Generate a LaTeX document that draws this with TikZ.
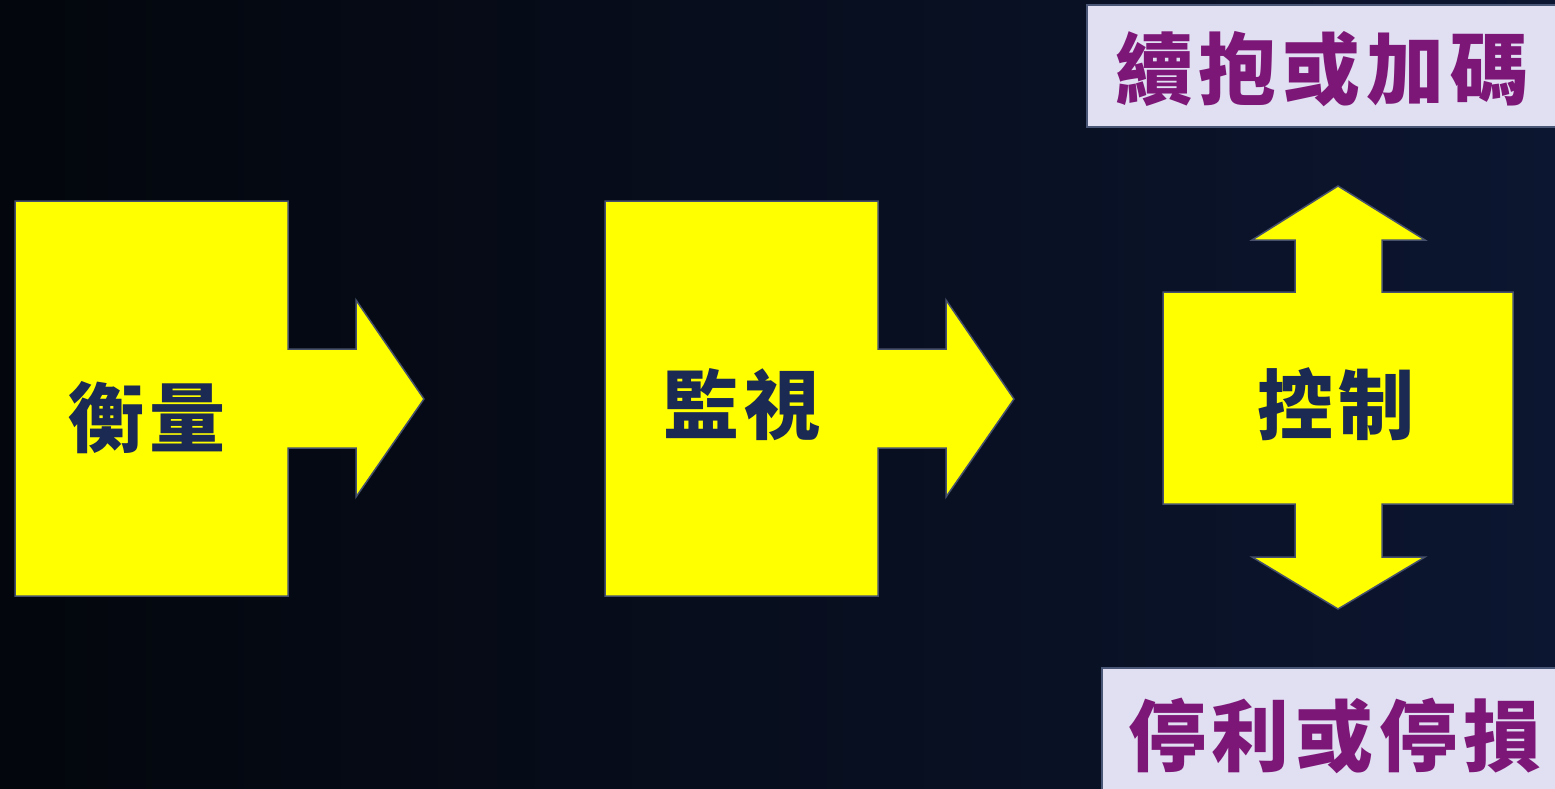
\documentclass[tikz,border=0pt]{standalone}
\usepackage{fontspec}
\newfontfamily\cjk{Noto Sans CJK TC}
\definecolor{bgA}{HTML}{03060C}
\definecolor{bgB}{HTML}{0C1630}
\definecolor{yel}{HTML}{FFFF00}
\definecolor{edge}{HTML}{46506A}
\definecolor{navy}{HTML}{1B2A52}
\definecolor{purp}{HTML}{7D1777}
\definecolor{boxfill}{HTML}{E0E0F2}
\definecolor{boxedge}{HTML}{4A5676}
\tikzset{
  shapefill/.style={fill=yel, draw=edge, line width=1.5pt, line join=miter},
  shapelabel/.style={font=\cjk\bfseries\fontsize{76}{80}\selectfont, text=navy, inner sep=0pt},
  actbox/.style={fill=boxfill, draw=boxedge, line width=2.5pt},
  acttext/.style={font=\cjk\bfseries\fontsize{78}{84}\selectfont, text=purp, inner sep=0pt},
}
\begin{document}
\begin{tikzpicture}[x=1pt,y=-1pt]
\useasboundingbox (0,0) rectangle (1555,789);
\shade[shading angle=135, left color=bgA, right color=bgB] (0,0) rectangle (1555,789);
\begin{scope}
\clip (0,0) rectangle (1555,789);
% shape 1
\draw[shapefill] (15,201) -- (288,201) -- (288,349) -- (356,349) -- (356,300) -- (424,399) -- (356,497) -- (356,448) -- (288,448) -- (288,596) -- (15,596) -- cycle;
% shape 2
\begin{scope}[xshift=590pt]
\draw[shapefill] (15,201) -- (288,201) -- (288,349) -- (356,349) -- (356,300) -- (424,399) -- (356,497) -- (356,448) -- (288,448) -- (288,596) -- (15,596) -- cycle;
\end{scope}
% shape 3
\draw[shapefill] (1163,292) -- (1295,292) -- (1295,240) -- (1252,240) -- (1338,186) -- (1425,240) -- (1382,240) -- (1382,292) -- (1513,292) -- (1513,504) -- (1382,504) -- (1382,557) -- (1425,557) -- (1338,609) -- (1252,557) -- (1295,557) -- (1295,504) -- (1163,504) -- cycle;
\node[shapelabel] (measure) at (147,418) {衡\hspace{6pt}量};
\node[shapelabel] (monitor) at (742,405) {監\hspace{6pt}視};
\node[shapelabel] (control) at (1336,404) {控\hspace{6pt}制};
% action boxes
\draw[actbox] (1087,5) rectangle (1575,127);
\draw[actbox] (1102,668) rectangle (1575,800);
\node[acttext] (hold) at (1322,69) {續\hspace{6pt}抱\hspace{6pt}或\hspace{6pt}加\hspace{6pt}碼};
\node[acttext] (stop) at (1335,736) {停\hspace{6pt}利\hspace{6pt}或\hspace{6pt}停\hspace{6pt}損};
\end{scope}
\end{tikzpicture}
\end{document}
